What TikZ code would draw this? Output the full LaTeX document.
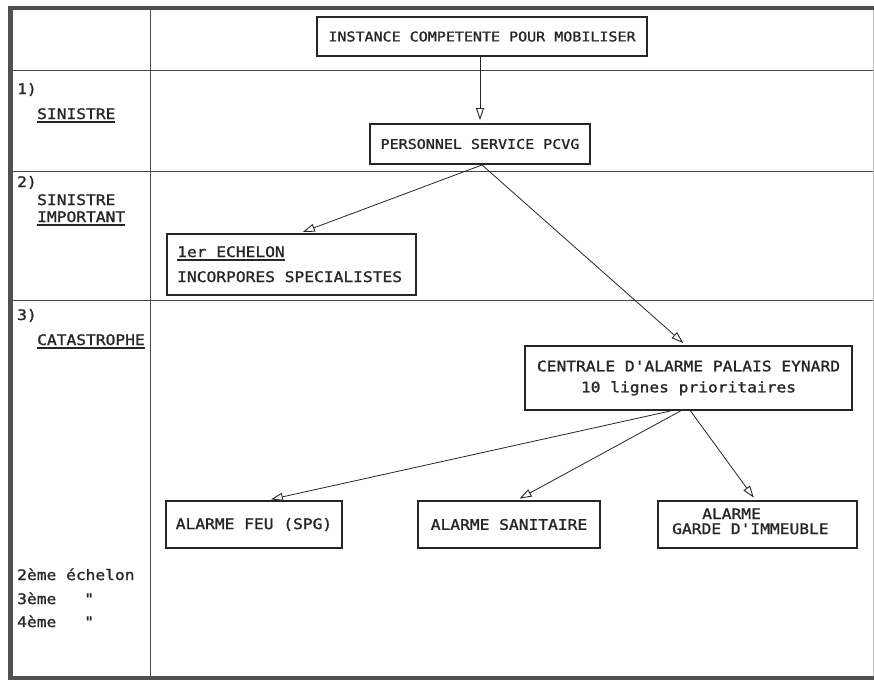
\documentclass[tikz,border=0pt]{standalone}
\usepackage{fontspec}
\newfontfamily\plotfont[FakeStretch=1.12, FakeBold=1.3]{DejaVu Sans Mono}
\usetikzlibrary{arrows.meta,calc}
\newcommand\plotul[1]{\leavevmode\vtop{\hbox{#1}\kern2.2pt\hrule height 1.6pt}}
\definecolor{ink}{HTML}{262626}
\definecolor{frame}{HTML}{505050}
\tikzset{
  txt/.style={font=\plotfont\fontsize{14.5}{17}\selectfont, text=ink, inner sep=0pt},
  plotbox/.style={draw=ink, line width=1.9pt, rectangle, inner sep=0pt, align=center, text=ink,
    font=\plotfont\fontsize{14.5}{17}\selectfont},
  topbox/.style={plotbox, font=\plotfont\fontsize{13.4}{16}\selectfont},
  grid/.style={draw=ink!85, line width=0.9pt},
  conn/.style={draw=ink, line width=0.8pt, shorten >=3pt,
    -{Triangle[open, length=12pt, width=8pt, line width=0.9pt]}},
}
\begin{document}
\begin{tikzpicture}[x=1pt,y=-1pt]
\useasboundingbox (0,0) rectangle (874,680);
\fill[white] (0,0) rectangle (874,680);
% grid
\draw[grid] (150,8) -- (150,678);
\draw[grid] (12,70) -- (873,70);
\draw[grid] (12,171) -- (873,171);
\draw[grid] (12,300) -- (873,300);
% outer frame
\draw[line width=0.8pt, draw=black!25] (873,8) -- (873,678);
\draw[line width=4pt, draw=frame] (8,8) -- (874,8);
\draw[line width=5pt, draw=frame] (10,6) -- (10,680);
\draw[line width=4pt, draw=frame] (8,678) -- (874,678);

% left column
\node[txt, anchor=base west] (n1) at (17,94) {1)};
\node[txt, anchor=base west] (l1) at (37,119) {\plotul{SINISTRE}};
\node[txt, anchor=base west] (n2) at (17,187) {2)};
\node[txt, anchor=base west] (l2a) at (37,205) {SINISTRE};
\node[txt, anchor=base west] (l2b) at (37,222) {\plotul{IMPORTANT}};
\node[txt, anchor=base west] (n3) at (17,320) {3)};
\node[txt, anchor=base west] (l3) at (37,345) {\plotul{CATASTROPHE}};
\node[txt, anchor=base west] (e2) at (17,580) {2ème échelon};
\node[txt, anchor=base west] (e3) at (17,604) {3ème};
\node[txt, anchor=base west] (e4) at (17,627) {4ème};
\node[txt, anchor=base west] (q3) at (84,604) {"};
\node[txt, anchor=base west] (q4) at (84,627) {"};

% boxes
\node[topbox, minimum width=330pt, minimum height=39pt] (inst) at (482,36.5)
  {INSTANCE COMPETENTE POUR MOBILISER};
\node[topbox, minimum width=220pt, minimum height=40pt] (pers) at (480,144)
  {\raisebox{-3pt}{PERSONNEL SERVICE PCVG}};
\node[plotbox, minimum width=249pt, minimum height=61pt] (ech) at (291.5,264.5) {};
\node[txt, anchor=base west] (ech1) at (177,257) {\plotul{1er ECHELON}};
\node[txt, anchor=base west] (ech2) at (177,282) {INCORPORES SPECIALISTES};
\node[plotbox, minimum width=327pt, minimum height=64pt] (cent) at (688.5,378)
  {CENTRALE D'ALARME PALAIS EYNARD\\[4pt]10 lignes prioritaires};
\node[plotbox, minimum width=176pt, minimum height=47pt] (feu) at (254,524.5) {ALARME FEU (SPG)};
\node[plotbox, minimum width=182pt, minimum height=47pt] (san) at (509,524.5) {ALARME SANITAIRE};
\node[plotbox, minimum width=199pt, minimum height=47pt] (garde) at (757.5,524.5) {};
\node[txt, anchor=base west] (garde1) at (702,519) {ALARME};
\node[txt, anchor=base west] (garde2) at (672,534) {GARDE D'IMMEUBLE};

% connectors
\draw[conn] (pers.north |- inst.south) -- (pers.north);
\draw[conn] ($(pers.south)+(2,0)$) -- ($(ech.north)+(8.5,0)$);
\draw[conn] ($(pers.south)+(2,0)$) -- ($(cent.north)+(-3,0)$);
\draw[conn] ($(cent.south)+(-18,0)$) -- ($(feu.north)+(14,0)$);
\draw[conn] ($(cent.south)+(-8,0)$) -- ($(san.north)+(8,0)$);
\draw[conn] ($(cent.south)+(2,0)$) -- ($(garde.north)+(-2,0)$);
\end{tikzpicture}
\end{document}
